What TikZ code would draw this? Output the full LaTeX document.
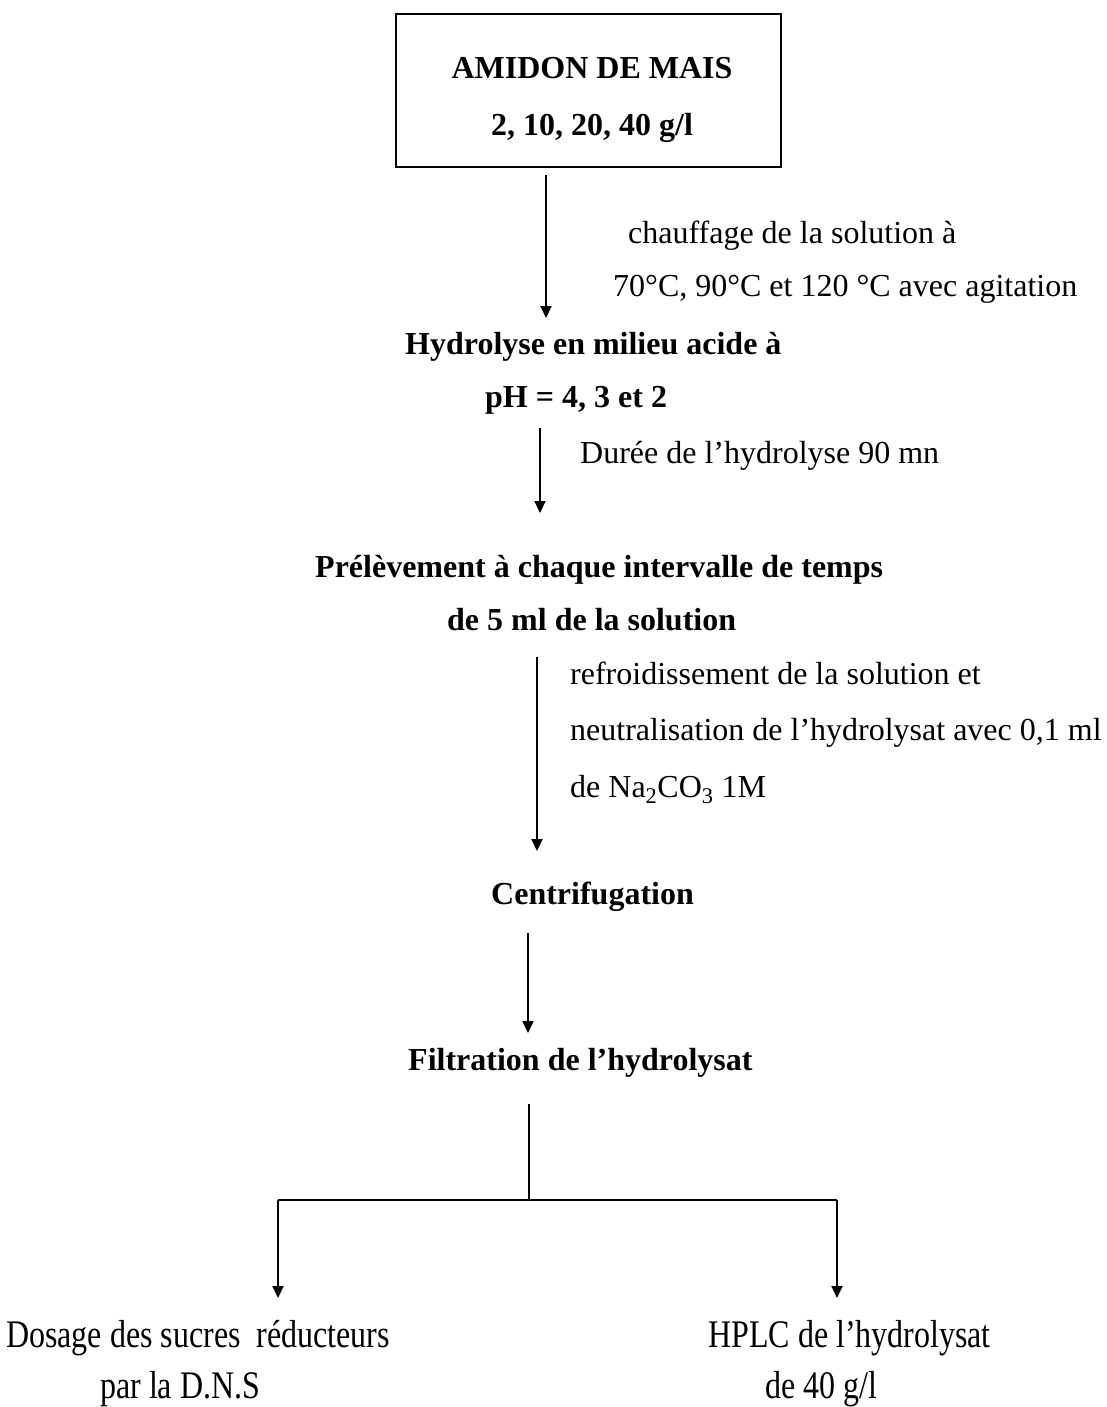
\documentclass[tikz,border=0pt]{standalone}
\usepackage{fontspec}
\setmainfont{Liberation Serif}
\usetikzlibrary{arrows.meta}
\tikzset{
  txt/.style={anchor=base west, inner sep=0pt, font=\fontsize{32}{38}\selectfont},
  btxt/.style={txt, font=\fontsize{32}{38}\selectfont\bfseries},
  flow/.style={line width=2pt, -{Triangle[width=11pt,length=12pt]}},
  plain/.style={line width=2pt},
  boxst/.style={draw, line width=2pt, minimum width=385pt, minimum height=153pt, anchor=north west, inner sep=0pt}
}
\newcommand{\tallt}[1]{\scalebox{1}[1.22]{#1}}
\begin{document}
\begin{tikzpicture}[x=1pt,y=-1pt]
\useasboundingbox (0,0) rectangle (1107,1407);
\node[boxst] (box) at (395,13) {};
\node[btxt, anchor=base] (t1) at (592,79) {AMIDON DE MAIS};
\node[btxt, anchor=base] (t2) at (592,136) {2, 10, 20, 40 g/l};
\coordinate (a1s) at (546,175);
\coordinate (a1e) at (546,318);
\draw[flow] (a1s) -- (a1e);
\node[txt] (c1) at (628,243) {chauffage de la solution à};
\node[txt] (c2) at (613,296) {70°C, 90°C et 120 °C avec agitation};
\node[btxt] (h1) at (405,354) {Hydrolyse en milieu acide à};
\node[btxt] (h2) at (485,407) {pH = 4, 3 et 2};
\coordinate (a2s) at (540,428);
\coordinate (a2e) at (540,513);
\draw[flow] (a2s) -- (a2e);
\node[txt] (d1) at (580,463) {Durée de l’hydrolyse 90 mn};
\node[btxt] (p1) at (315,577) {Prélèvement à chaque intervalle de temps};
\node[btxt] (p2) at (447,630) {de 5 ml de la solution};
\coordinate (a3s) at (537,657);
\coordinate (a3e) at (537,851);
\draw[flow] (a3s) -- (a3e);
\node[txt] (r1) at (570,684) {refroidissement de la solution et};
\node[txt] (r2) at (570,740) {neutralisation de l’hydrolysat avec 0,1 ml};
\node[txt] (r3) at (570,797) {de Na\textsubscript{2}CO\textsubscript{3} 1M};
\node[btxt] (cf) at (491,904) {Centrifugation};
\coordinate (a4s) at (528,933);
\coordinate (a4e) at (528,1033);
\draw[flow] (a4s) -- (a4e);
\node[btxt] (fl) at (408,1070) {Filtration de l’hydrolysat};
\coordinate (j0) at (529,1104);
\coordinate (j1) at (529,1200);
\coordinate (jl) at (278,1200);
\coordinate (jr) at (837,1200);
\coordinate (el) at (278,1298);
\coordinate (er) at (837,1298);
\draw[plain] (j0) -- (j1);
\draw[plain] (jl) -- (jr);
\draw[flow] (jl) -- (el);
\draw[flow] (jr) -- (er);
\node[txt] (l1) at (6,1347) {\tallt{Dosage des sucres \ réducteurs}};
\node[txt] (l2) at (100,1398) {\tallt{par la D.N.S}};
\node[txt] (g1) at (708,1347) {\tallt{HPLC de l’hydrolysat}};
\node[txt] (g2) at (765,1398) {\tallt{de 40 g/l}};
\end{tikzpicture}
\end{document}
